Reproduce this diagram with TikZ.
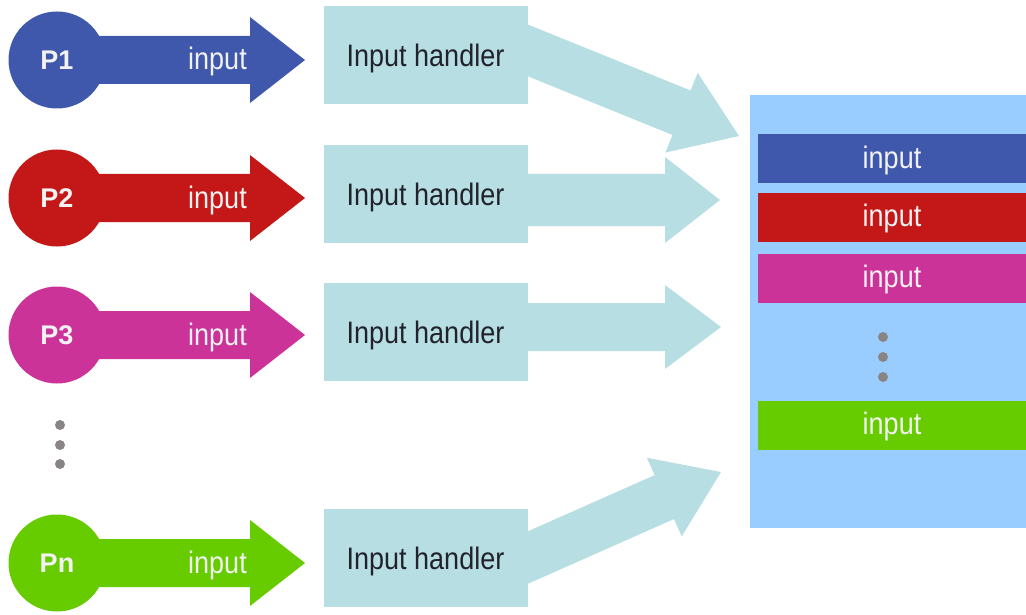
\documentclass[tikz,border=0pt]{standalone}
\usepackage{fontspec}
\usepackage{graphicx}
\setmainfont{Liberation Sans}
\usetikzlibrary{calc}
\pgfdeclarelayer{background}
\pgfsetlayers{background,main}

\definecolor{procblue}{HTML}{3F58AB}
\definecolor{procred}{HTML}{C41818}
\definecolor{procmag}{HTML}{CC3399}
\definecolor{procgreen}{HTML}{66CC00}
\definecolor{handlerfill}{HTML}{B7DFE3}
\definecolor{panelfill}{HTML}{99CCFF}
\definecolor{dotgray}{HTML}{8A8585}
\definecolor{darktext}{HTML}{22222C}
\definecolor{lighttext}{HTML}{F2F2F2}

% Slightly tall lettering
\newcommand{\tall}[1]{\scalebox{1}[1.15]{#1}}

% Filled block arrow: style, from, to, shaft half-width, head half-width, head length
\newcommand{\blockarrow}[6]{%
  \coordinate (abase) at ($(#3)!#6!(#2)$);
  \fill[#1] ($(#2)!#4!90:(#3)$) -- ($(abase)!#4!90:(#3)$) -- ($(abase)!#5!90:(#3)$)
    -- (#3) -- ($(abase)!#5!-90:(#3)$) -- ($(abase)!#4!-90:(#3)$)
    -- ($(#2)!#4!-90:(#3)$) -- cycle;
}

\tikzset{
  bigtext/.style={font=\fontsize{27}{30}\selectfont},
  proc/.style={circle, minimum size=97pt, inner sep=0pt, bigtext, text=lighttext},
  arrowlabel/.style={bigtext, text=lighttext, inner sep=0pt, text height=18pt, text depth=0pt},
  handler/.style={rectangle, fill=handlerfill, minimum width=204pt, minimum height=98pt,
    inner sep=0pt, bigtext, text=darktext, text height=23pt, text depth=0pt},
  slot/.style={rectangle, minimum width=268pt, minimum height=49pt, inner sep=0pt,
    bigtext, text=lighttext, text height=18pt, text depth=0pt},
  dot/.style={circle, fill=dotgray, minimum size=10pt, inner sep=0pt},
}

\begin{document}
\begin{tikzpicture}[x=1pt, y=-1pt]
\useasboundingbox (0,0) rectangle (1026,615);

% ---- processes ----
\coordinate (c1) at (57,60);   \coordinate (t1) at (305,60);
\coordinate (c2) at (57,198);  \coordinate (t2) at (305,198);
\coordinate (c3) at (57,335);  \coordinate (t3) at (305,335);
\coordinate (cn) at (57,563);  \coordinate (tn) at (305,563);

\blockarrow{procblue}{c1}{t1}{24pt}{43pt}{55pt}
\blockarrow{procred}{c2}{t2}{24pt}{43pt}{55pt}
\blockarrow{procmag}{c3}{t3}{24pt}{43pt}{55pt}
\blockarrow{procgreen}{cn}{tn}{24pt}{43pt}{55pt}

\node[proc, fill=procblue]  (p1) at (c1) {\bfseries P1};
\node[proc, fill=procred]   (p2) at (c2) {\bfseries P2};
\node[proc, fill=procmag]   (p3) at (c3) {\bfseries P3};
\node[proc, fill=procgreen] (pn) at (cn) {\bfseries Pn};

\node[arrowlabel] (l1) at (217.5,61)  {\tall{input}};
\node[arrowlabel] (l2) at (217.5,199) {\tall{input}};
\node[arrowlabel] (l3) at (217.5,336) {\tall{input}};
\node[arrowlabel] (ln) at (217.5,564) {\tall{input}};

\node[dot] (ld1) at (60,425) {};
\node[dot] (ld2) at (60,445) {};
\node[dot] (ld3) at (60,464) {};

% ---- input handlers ----
\node[handler] (h1) at (425.5,55)  {\tall{Input handler}};
\node[handler] (h2) at (425.5,194) {\tall{Input handler}};
\node[handler] (h3) at (425.5,332) {\tall{Input handler}};
\node[handler] (hn) at (425.5,558) {\tall{Input handler}};

% ---- shared input buffer ----
\node[rectangle, fill=panelfill, minimum width=276pt, minimum height=433pt, inner sep=0pt]
  (buf) at (888,311.5) {};
\node[slot, fill=procblue]  (b1) at (892,159)   {\tall{input}};
\node[slot, fill=procred]   (b2) at (892,217.5) {\tall{input}};
\node[slot, fill=procmag]   (b3) at (892,278)   {\tall{input}};
\node[slot, fill=procgreen] (bn) at (892,425)   {\tall{input}};
\node[dot] (rd1) at (883,337) {};
\node[dot] (rd2) at (883,357) {};
\node[dot] (rd3) at (883,377) {};

% ---- handler-to-buffer arrows (behind the handler boxes) ----
\coordinate (s1) at ($(h1.east)+(-28,-16)$);  \coordinate (e1) at (739,136);
\coordinate (s2) at ($(h2.east)+(-28,6)$);    \coordinate (e2) at (720,200);
\coordinate (s3) at ($(h3.east)+(-28,-5)$);   \coordinate (e3) at (721,327);
\coordinate (sn) at ($(hn.east)+(-28,12)$);   \coordinate (en) at (721,472);
\begin{pgfonlayer}{background}
\fill[white] (0,0) rectangle (1026,615);
\blockarrow{handlerfill}{s1}{e1}{24pt}{43pt}{62pt}
\blockarrow{handlerfill}{s2}{e2}{26pt}{43pt}{55pt}
\blockarrow{handlerfill}{s3}{e3}{24pt}{42pt}{56pt}
\blockarrow{handlerfill}{sn}{en}{24pt}{43pt}{62pt}
\end{pgfonlayer}
\end{tikzpicture}
\end{document}
